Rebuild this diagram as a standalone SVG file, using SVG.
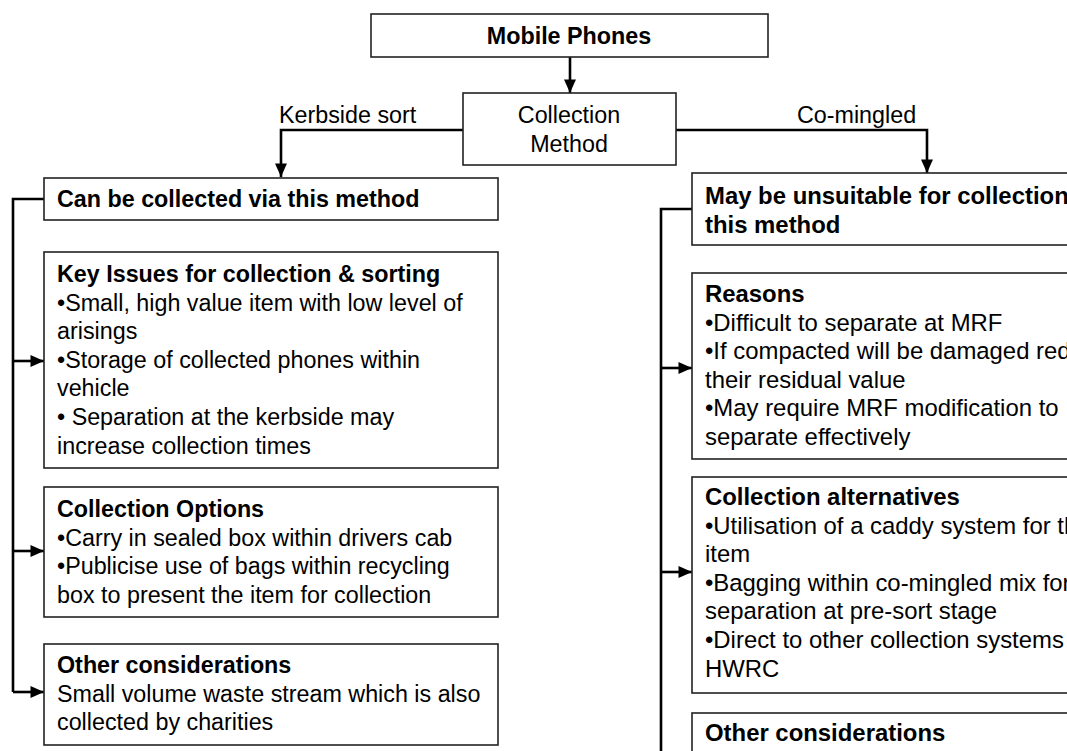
<svg xmlns="http://www.w3.org/2000/svg" width="1067" height="751" viewBox="0 0 1067 751">
<defs>
<marker id="arr" viewBox="0 0 10 10" refX="10" refY="5" markerWidth="5.2" markerHeight="5.2" orient="auto" markerUnits="strokeWidth">
<path d="M0,0.6 L10,5 L0,9.4 z" fill="#000"/>
</marker>
<style>
.box{fill:#fff;stroke:#222;stroke-width:1.6}
.t{font-family:"Liberation Sans",Arial,sans-serif;font-size:23.3px;fill:#000}
.r{font-size:23.9px}
.b{font-weight:bold}
.c{fill:none;stroke:#000;stroke-width:2.6}
</style>
</defs>
<rect width="1067" height="751" fill="#fff"/>
<g id="connectors">
<path class="c" d="M570,57 V93" marker-end="url(#arr)"/>
<path class="c" d="M463,130 H281 V177" marker-end="url(#arr)"/>
<path class="c" d="M676,130 H927 V173" marker-end="url(#arr)"/>
<path class="c" d="M44,199 H13 V692"/>
<path class="c" d="M13,361 H44" marker-end="url(#arr)"/>
<path class="c" d="M13,551 H44" marker-end="url(#arr)"/>
<path class="c" d="M13,692 H44" marker-end="url(#arr)"/>
<path class="c" d="M692,209 H661 V760"/>
<path class="c" d="M661,368 H692" marker-end="url(#arr)"/>
<path class="c" d="M661,572 H692" marker-end="url(#arr)"/>
<text class="t" x="279" y="123">Kerbside sort</text>
<text class="t" x="797" y="123">Co-mingled</text>
</g>
<g id="mobile-phones">
<rect class="box" x="371" y="14" width="397" height="43"/>
<text class="t b" x="569" y="44" text-anchor="middle">Mobile Phones</text>
</g>
<g id="collection-method">
<rect class="box" x="463" y="93" width="213" height="72"/>
<text class="t" x="569" y="123" text-anchor="middle">Collection</text>
<text class="t" x="569" y="152" text-anchor="middle">Method</text>
</g>
<g id="can-be-collected">
<rect class="box" x="44" y="178" width="454" height="42"/>
<text class="t b" x="57" y="207">Can be collected via this method</text>
</g>
<g id="key-issues">
<rect class="box" x="44" y="252" width="454" height="216"/>
<text class="t" x="57" y="282"><tspan class="b">Key Issues for collection &amp; sorting</tspan>
<tspan x="57" dy="28.6">•Small, high value item with low level of</tspan>
<tspan x="57" dy="28.6">arisings</tspan>
<tspan x="57" dy="28.6">•Storage of collected phones within</tspan>
<tspan x="57" dy="28.6">vehicle</tspan>
<tspan x="57" dy="28.6">• Separation at the kerbside may</tspan>
<tspan x="57" dy="28.6">increase collection times</tspan></text>
</g>
<g id="collection-options">
<rect class="box" x="44" y="487" width="454" height="130"/>
<text class="t" x="57" y="517"><tspan class="b">Collection Options</tspan>
<tspan x="57" dy="28.6">•Carry in sealed box within drivers cab</tspan>
<tspan x="57" dy="28.6">•Publicise use of bags within recycling</tspan>
<tspan x="57" dy="28.6">box to present the item for collection</tspan></text>
</g>
<g id="other-left">
<rect class="box" x="44" y="644" width="454" height="101"/>
<text class="t" x="57" y="673"><tspan class="b">Other considerations</tspan>
<tspan x="57" dy="28.6">Small volume waste stream which is also</tspan>
<tspan x="57" dy="28.6">collected by charities</tspan></text>
</g>
<g id="may-be-unsuitable">
<rect class="box" x="692" y="173" width="420" height="72"/>
<text class="t r b" x="705" y="204">May be unsuitable for collection via
<tspan x="705" dy="28.6">this method</tspan></text>
</g>
<g id="reasons">
<rect class="box" x="692" y="273" width="420" height="186"/>
<text class="t r" x="705" y="302"><tspan class="b">Reasons</tspan>
<tspan x="705" dy="28.6">•Difficult to separate at MRF</tspan>
<tspan x="705" dy="28.6">•If compacted will be damaged reducing</tspan>
<tspan x="705" dy="28.6">their residual value</tspan>
<tspan x="705" dy="28.6">•May require MRF modification to</tspan>
<tspan x="705" dy="28.6">separate effectively</tspan></text>
</g>
<g id="collection-alternatives">
<rect class="box" x="692" y="477" width="420" height="216"/>
<text class="t r" x="705" y="505"><tspan class="b">Collection alternatives</tspan>
<tspan x="705" dy="28.6">•Utilisation of a caddy system for the</tspan>
<tspan x="705" dy="28.6">item</tspan>
<tspan x="705" dy="28.6">•Bagging within co-mingled mix for</tspan>
<tspan x="705" dy="28.6">separation at pre-sort stage</tspan>
<tspan x="705" dy="28.6">•Direct to other collection systems or</tspan>
<tspan x="705" dy="28.6">HWRC</tspan></text>
</g>
<g id="other-right">
<rect class="box" x="692" y="713" width="420" height="60"/>
<text class="t r b" x="705" y="741">Other considerations</text>
</g>
</svg>
